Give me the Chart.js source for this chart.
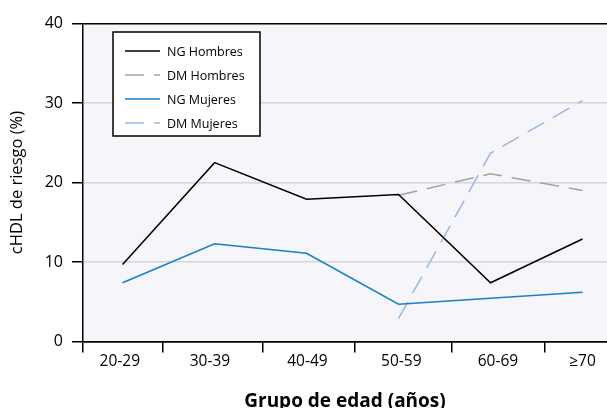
<!DOCTYPE html>
<html>
<head>
<meta charset="utf-8">
<script src="https://cdn.jsdelivr.net/npm/chart.js@4"></script>
<style>
  html, body { margin: 0; padding: 0; background: #fff; }
  #wrap { width: 607px; height: 408px; }
</style>
</head>
<body>
<div id="wrap"><canvas id="chart"></canvas></div>
<script>
const categories = ['20-29', '30-39', '40-49', '50-59', '60-69', '≥70'];
const ngHombres = [9.7, 22.5, 17.9, 18.5, 7.4, 12.9];
const dmHombres = [null, null, null, 18.4, 21.1, 19.0];
const ngMujeres = [7.4, 12.3, 11.1, 4.7, null, 6.2];
const dmMujeres = [null, null, null, 2.9, 23.7, 30.3];
const yTicks = [0, 10, 20, 30, 40];

// layout only: where the label ticks and the separator ticks sit on the x scale
const labelPos = [-0.03, 0.95, 2.01, 3.03, 4.08, 5.0];
const sepPos = [-0.43, 0.44, 1.52, 2.52, 3.58, 4.59];
const FONT = "'Open Sans', sans-serif";

function toPoints(arr) {
  return arr.map((v, i) => ({ x: i, y: v }));
}

const bgPlugin = {
  id: 'plotBg',
  beforeDraw(chart) {
    const { ctx, chartArea: a } = chart;
    ctx.save();
    ctx.fillStyle = '#f5f5fa';
    ctx.fillRect(a.left, a.top, a.right - a.left, a.bottom - a.top);
    ctx.restore();
  }
};

const legendBox = {
  id: 'legendBox',
  afterDraw(chart) {
    const ctx = chart.ctx;
    ctx.save();
    ctx.fillStyle = '#fff';
    ctx.fillRect(113, 32, 147, 104);
    ctx.strokeStyle = '#000';
    ctx.lineWidth = 1.5;
    ctx.strokeRect(113, 32, 147, 104);
    ctx.font = '12.5px ' + FONT;
    ctx.textBaseline = 'middle';
    chart.data.datasets.forEach((ds, i) => {
      const y = 51 + i * 24;
      ctx.strokeStyle = ds.borderColor;
      ctx.lineWidth = 1.5;
      ctx.setLineDash(ds.borderDash || []);
      ctx.beginPath();
      ctx.moveTo(125, y);
      ctx.lineTo(160, y);
      ctx.stroke();
      ctx.setLineDash([]);
      ctx.fillStyle = '#000';
      ctx.fillText(ds.label, 167, y + 1);
    });
    ctx.restore();
  }
};

function line(label, data, color, dash) {
  return {
    label: label,
    data: toPoints(data),
    borderColor: color,
    backgroundColor: color,
    borderWidth: 1.5,
    borderDash: dash,
    pointRadius: 0,
    tension: 0,
    spanGaps: true,
    xAxisID: 'x',
    yAxisID: 'y'
  };
}

new Chart(document.getElementById('chart'), {
  type: 'line',
  data: {
    datasets: [
      line('NG Hombres', ngHombres, '#000000'),
      line('DM Hombres', dmHombres, '#a3a3a3', [19, 10]),
      line('NG Mujeres', ngMujeres, '#1680c8'),
      line('DM Mujeres', dmMujeres, '#9ab7e2', [19, 10])
    ]
  },
  options: {
    responsive: true,
    maintainAspectRatio: false,
    animation: false,
    layout: { padding: { top: 23.5, right: 0, bottom: -5, left: 0 } },
    plugins: { legend: { display: false }, tooltip: { enabled: false } },
    scales: {
      y: {
        min: 0,
        max: 40,
        afterBuildTicks: s => { s.ticks = yTicks.map(v => ({ value: v })); },
        afterFit: s => { s.width = 83; },
        ticks: { color: '#000', font: { family: FONT, size: 16 }, padding: 9 },
        grid: {
          color: c => (c.tick.value === 40 ? '#000' : c.tick.value === 0 ? '#000' : '#d6d6d6'),
          lineWidth: 1.5,
          tickLength: 11,
          tickColor: '#000'
        },
        border: { display: true, color: '#000', width: 1.5 },
        title: {
          display: true,
          text: 'cHDL de riesgo (%)',
          color: '#000',
          font: { family: FONT, size: 16.5 },
          padding: { top: 7, bottom: 0 }
        }
      },
      xs: {
        type: 'linear',
        position: 'bottom',
        weight: 0,
        min: sepPos[0],
        max: 5.266,
        afterBuildTicks: s => { s.ticks = sepPos.map(v => ({ value: v })); },
        ticks: { display: false },
        grid: { drawOnChartArea: false, tickLength: 11, tickColor: '#000', lineWidth: 1.5 },
        border: { display: true, color: '#000', width: 1.5 }
      },
      x: {
        type: 'linear',
        position: 'bottom',
        weight: 5,
        min: sepPos[0],
        max: 5.266,
        afterBuildTicks: s => { s.ticks = labelPos.map(v => ({ value: v })); },
        ticks: {
          color: '#000',
          font: { family: FONT, size: 15.5 },
          padding: 0,
          maxRotation: 0,
          autoSkip: false,
          callback: (v, i) => categories[i]
        },
        grid: { display: false, drawTicks: false },
        border: { display: false },
        title: {
          display: true,
          text: 'Grupo de edad (años)',
          color: '#000',
          font: { family: FONT, size: 19, weight: 'bold' },
          padding: { top: 19, bottom: 0 }
        }
      }
    }
  },
  plugins: [bgPlugin, legendBox]
});
</script>
</body>
</html>
